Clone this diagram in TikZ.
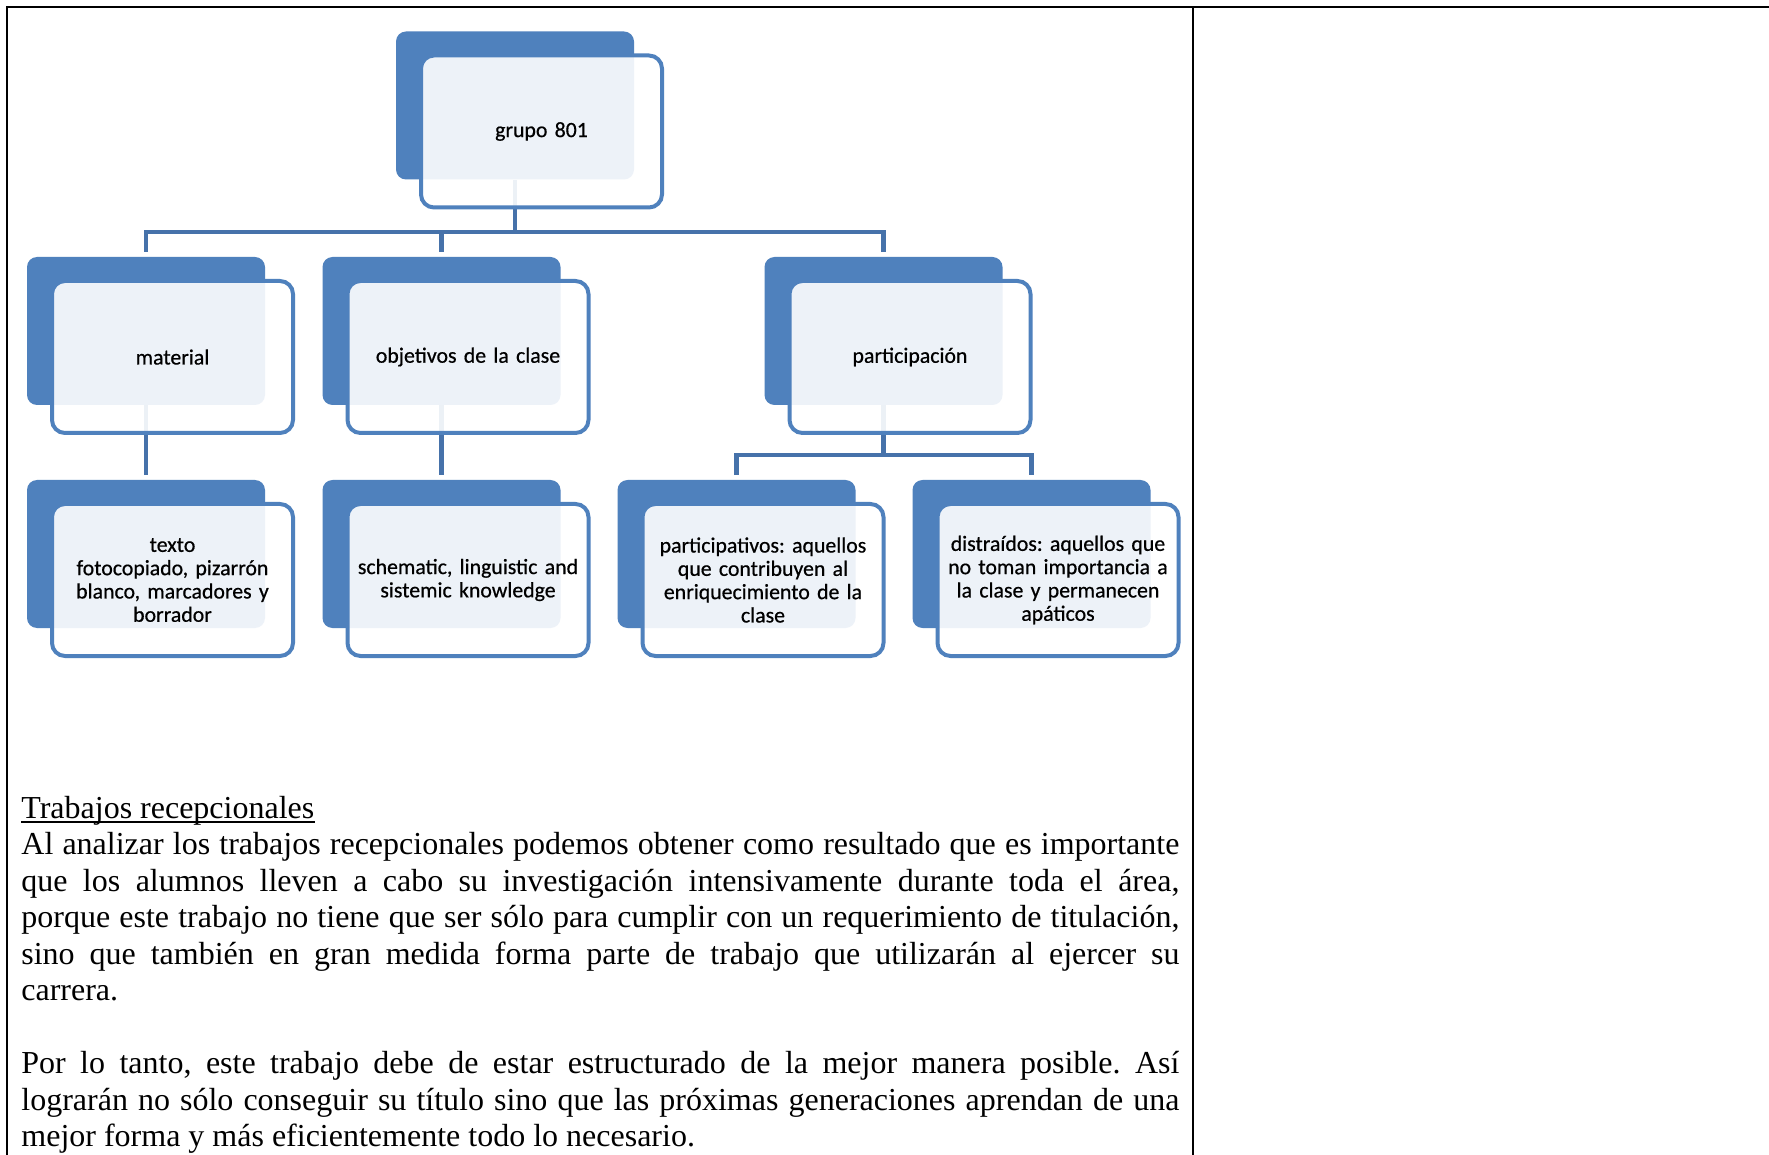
\documentclass[tikz,border=0pt]{standalone}
\usepackage{fontspec}
\setmainfont{Liberation Serif}
\newfontfamily\carlitofont[WordSpace=0.75,FakeBold=0.6]{Carlito}
\definecolor{accent}{HTML}{4F81BD}
\definecolor{connc}{HTML}{4672AA}
\frenchspacing
\begin{document}
\begin{tikzpicture}[x=0.5pt,y=-0.5pt,
  darkbox/.style={fill=accent, rounded corners=5pt, minimum width=119pt, minimum height=74pt, inner sep=0pt},
  frontbox/.style={draw=accent, line width=2pt, fill=white, fill opacity=0.9, text opacity=1, rounded corners=6.5pt, minimum width=120.5pt, minimum height=76pt, inner sep=0pt, align=center, text width=112pt, font=\carlitofont\fontsize{10.9}{11.65}\selectfont},
  conn/.style={draw=connc, line width=2.2pt},
  tline/.style={line width=1pt, black},
  para/.style={anchor=base west, inner sep=0pt, font=\fontsize{16}{18.6}\selectfont}
]
\useasboundingbox (0,0) rectangle (1769,1155);
\fill[white] (0,0) rectangle (1769,1155);

% table lines
\draw[tline] (1769,7) -- (7,7) -- (7,1155);
\draw[tline] (1193,7) -- (1193,1155);

% back (dark) boxes
\node[darkbox] (gD) at (515,105.5) {};
\node[darkbox] (mD) at (146,331) {};
\node[darkbox] (oD) at (441.5,331) {};
\node[darkbox] (pD) at (883.5,331) {};
\node[darkbox] (tD) at (146,554) {};
\node[darkbox] (sD) at (441.5,554) {};
\node[darkbox] (aD) at (736.5,554) {};
\node[darkbox] (dD) at (1031.5,554) {};

% connectors
\coordinate (bus1) at (515,232);
\coordinate (bus2) at (883.5,455);
\draw[conn] (gD.south) -- (bus1);
\draw[conn] ([yshift=2.5pt]mD.north) |- (bus1) -| ([yshift=2.5pt]pD.north);
\draw[conn] ([yshift=2.5pt]oD.north) -- (oD.north |- bus1);
\draw[conn] (mD.south) -- ([yshift=2.5pt]tD.north);
\draw[conn] (oD.south) -- ([yshift=2.5pt]sD.north);
\draw[conn] (pD.south) -- (bus2);
\draw[conn] ([yshift=2.5pt]aD.north) |- (bus2) -| ([yshift=2.5pt]dD.north);

% front boxes
\node[frontbox] (g) at (541.5,131.5) {grupo 801};
\node[frontbox] (m) at (172.5,357) {material};
\node[frontbox] (o) at (468,357) {objetivos de la clase};
\node[frontbox] (p) at (910,357) {participación};
\node[frontbox] (t) at (172.5,580) {texto\\fotocopiado, pizarrón\\blanco, marcadores y\\borrador};
\node[frontbox] (s) at (468,580) {schematic, linguistic and\\sistemic knowledge};
\node[frontbox] (a) at (763,580) {participativos: aquellos\\que contribuyen al\\enriquecimiento de la\\clase};
\node[frontbox] (d) at (1058,580) {distraídos: aquellos que\\no toman importancia a\\la clase y permanecen\\apáticos};

% text
\node[para] (h) at (21,818) {Trabajos recepcionales};
\draw[line width=0.7pt] ([yshift=-2pt]h.base west) -- ([yshift=-2pt]h.base east);
\node[para] (l1) at (21,854) {\makebox[579pt][s]{Al analizar los trabajos recepcionales podemos obtener como resultado que es importante}};
\node[para] (l2) at (21,891) {\makebox[579pt][s]{que los alumnos lleven a cabo su investigación intensivamente durante toda el área,}};
\node[para] (l3) at (21,927) {\makebox[579pt][s]{porque este trabajo no tiene que ser sólo para cumplir con un requerimiento de titulación,}};
\node[para] (l4) at (21,964) {\makebox[579pt][s]{sino que también en gran medida forma parte de trabajo que utilizarán al ejercer su}};
\node[para] (l5) at (21,1000) {carrera.};
\node[para] (l6) at (21,1073) {\makebox[579pt][s]{Por lo tanto, este trabajo debe de estar estructurado de la mejor manera posible. Así}};
\node[para] (l7) at (21,1110) {\makebox[579pt][s]{lograrán no sólo conseguir su título sino que las próximas generaciones aprendan de una}};
\node[para] (l8) at (21,1146) {mejor forma y más eficientemente todo lo necesario.};
\end{tikzpicture}
\end{document}
